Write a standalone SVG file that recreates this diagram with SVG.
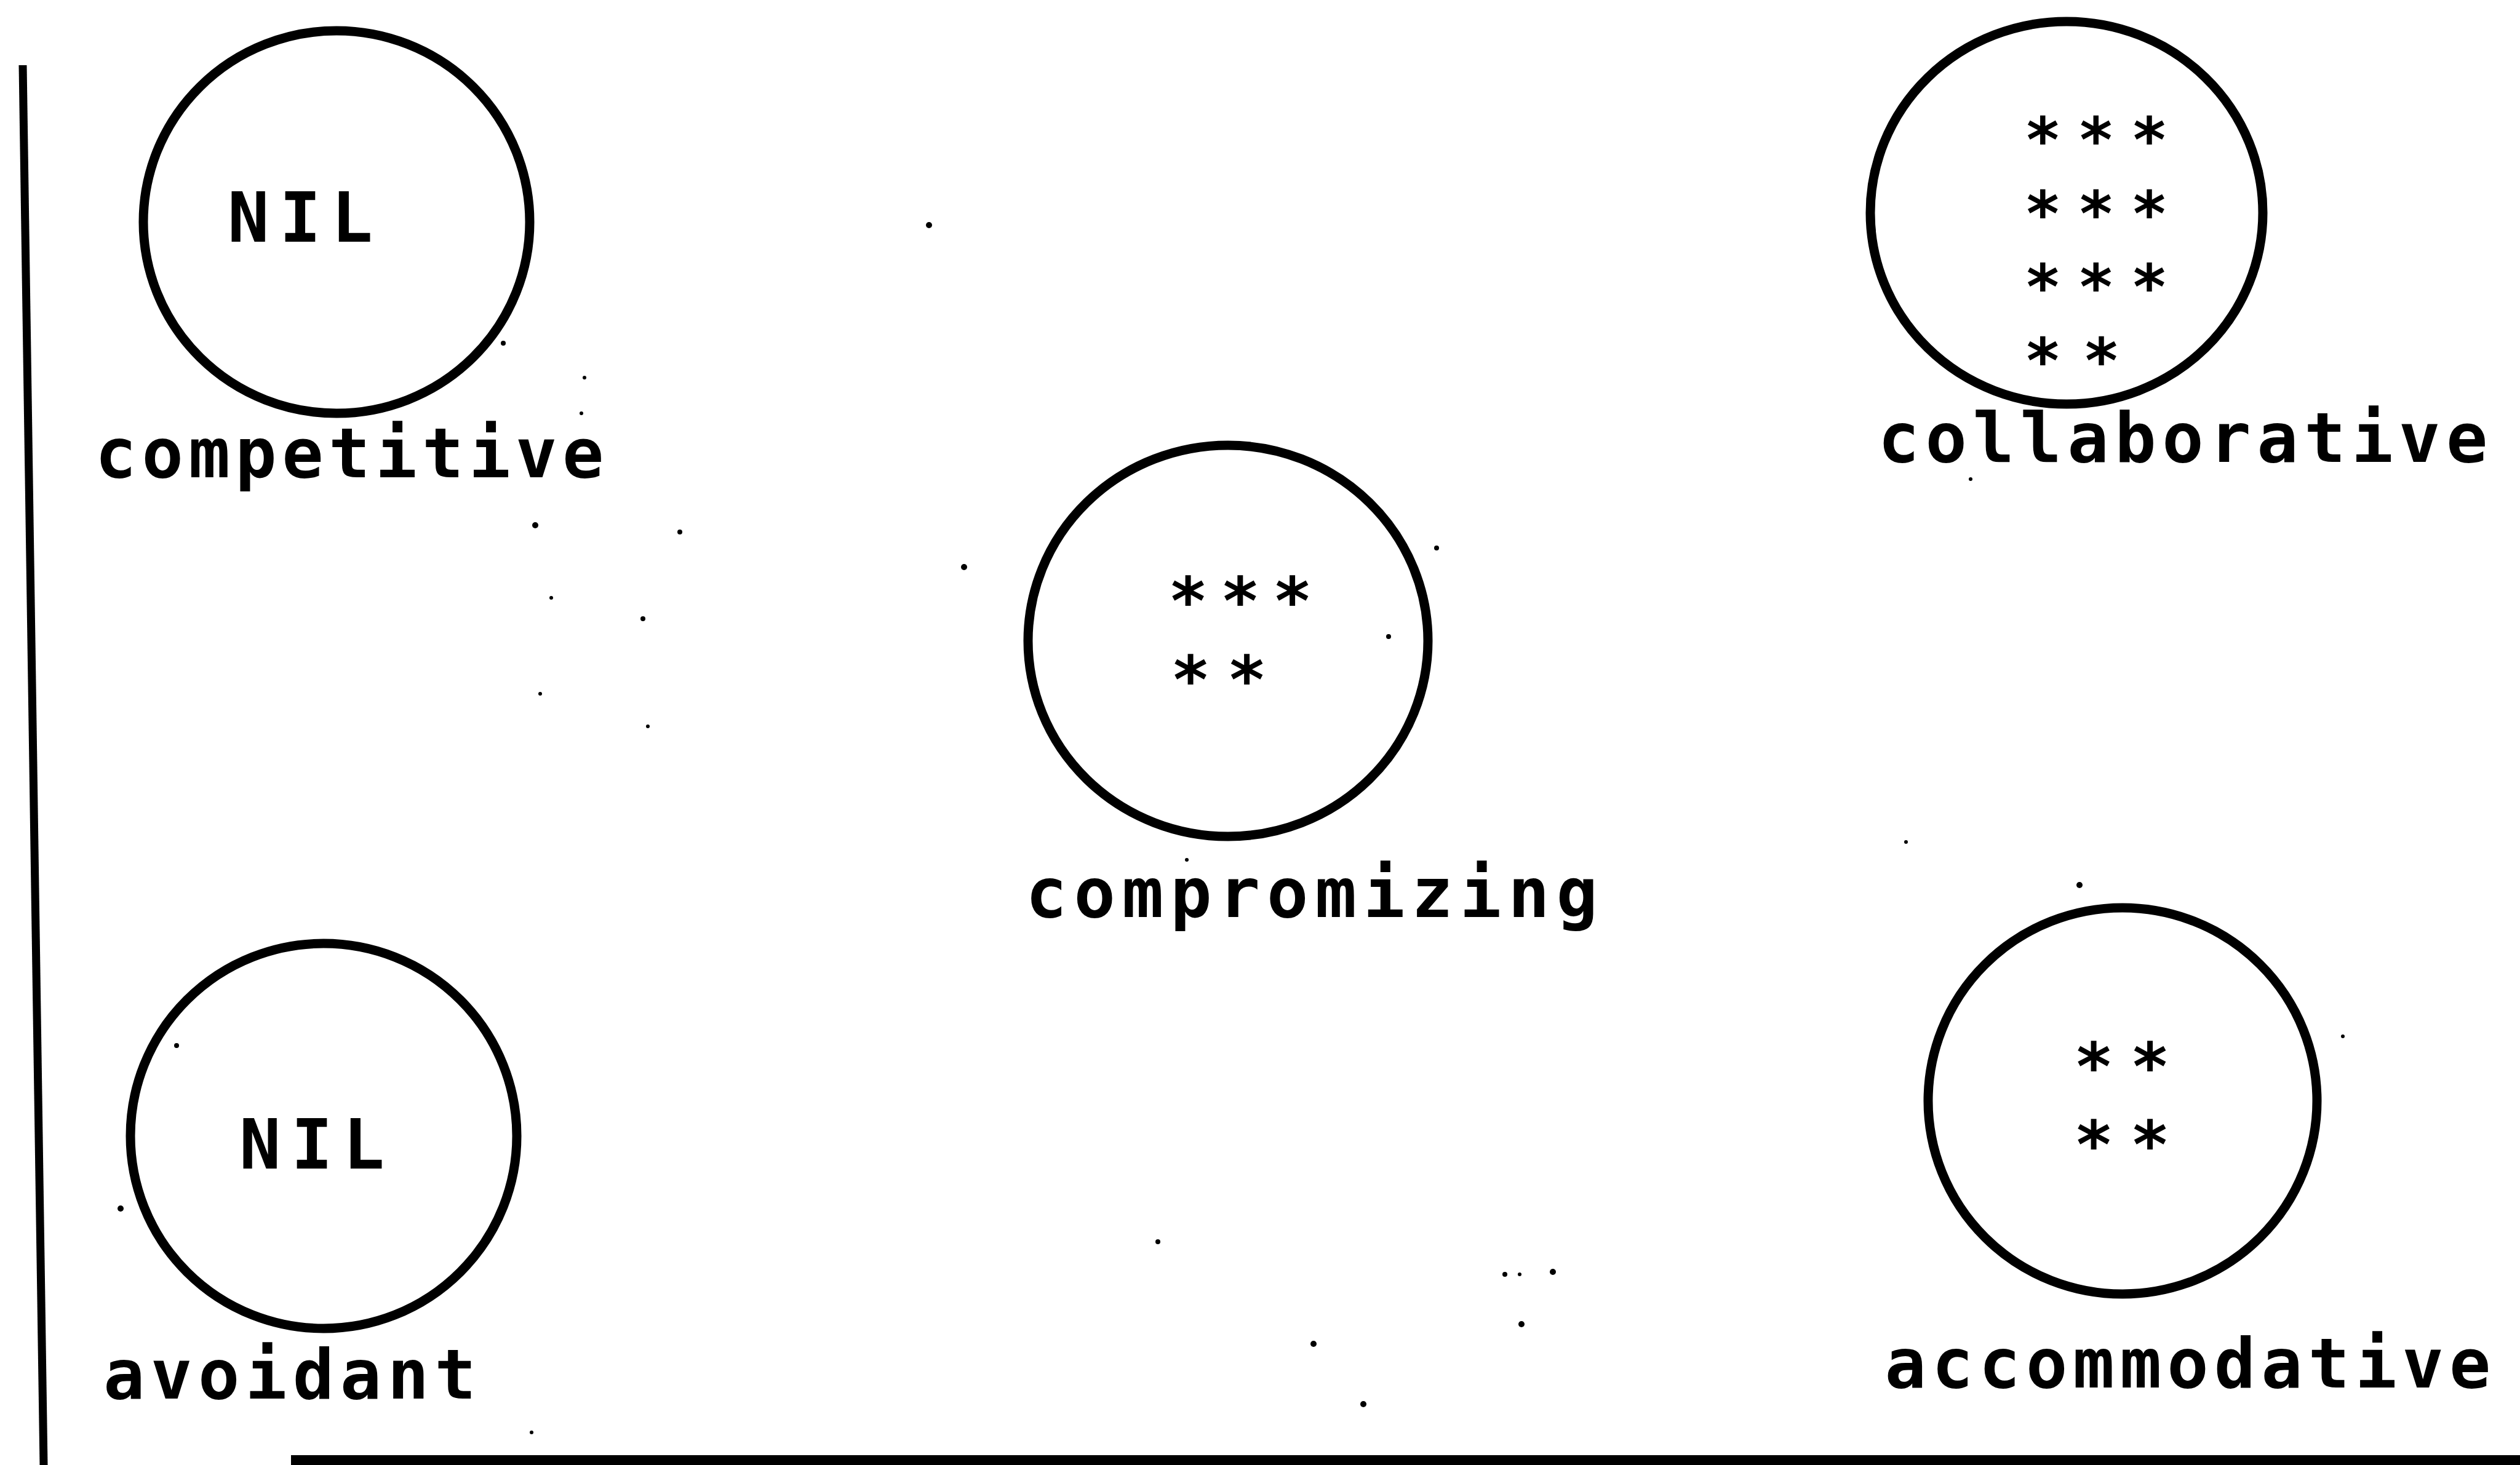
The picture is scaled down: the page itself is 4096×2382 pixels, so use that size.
<svg xmlns="http://www.w3.org/2000/svg" width="4096" height="2382" viewBox="0 0 4096 2382">
<style>
.c{fill:none;stroke:#000;stroke-width:15}
.t{font-family:"DejaVu Sans Mono","Liberation Mono",monospace;font-weight:bold;font-size:112px;fill:#000}
.n{text-anchor:middle}
.a{font-family:"DejaVu Sans Mono","Liberation Mono",monospace;font-weight:bold;font-size:107px;fill:#000}
.s{font-size:101px}
.d{fill:#000}
</style>
<rect width="4096" height="2382" fill="#fff"/>
<g id="frame">
<line x1="37" y1="106" x2="71" y2="2382" stroke="#000" stroke-width="13"/>
<rect x="473" y="2366" width="3623" height="16" fill="#000"/>
</g>
<g id="competitive">
<ellipse class="c" cx="547" cy="361" rx="314" ry="311"/>
<text class="t n" x="488" y="393" textLength="236" lengthAdjust="spacing">NIL</text>
<text class="t n" x="568" y="776" textLength="827" lengthAdjust="spacing">competitive</text>
</g>
<g id="compromizing">
<ellipse class="c" cx="1996" cy="1042" rx="325" ry="318"/>
<text class="a" x="1899" y="1015" textLength="234" lengthAdjust="spacing">***</text>
<text class="a" x="1903" y="1143" textLength="156" lengthAdjust="spacing">**</text>
<text class="t n" x="2132" y="1491" textLength="930" lengthAdjust="spacing">compromizing</text>
</g>
<g id="collaborative">
<ellipse class="c" cx="3359" cy="346" rx="319" ry="311"/>
<text class="a s" x="3290" y="263" textLength="234" lengthAdjust="spacing">***</text>
<text class="a s" x="3290" y="383" textLength="234" lengthAdjust="spacing">***</text>
<text class="a s" x="3290" y="502" textLength="234" lengthAdjust="spacing">***</text>
<text class="a s" x="3290" y="622" textLength="156" lengthAdjust="spacing">**</text>
<text class="t n" x="3548" y="751" textLength="991" lengthAdjust="spacing">collaborative</text>
</g>
<g id="avoidant">
<ellipse class="c" cx="526" cy="1847" rx="314" ry="313"/>
<text class="t n" x="507" y="1900" textLength="236" lengthAdjust="spacing">NIL</text>
<text class="t n" x="471" y="2274" textLength="606" lengthAdjust="spacing">avoidant</text>
</g>
<g id="accommodative">
<ellipse class="c" cx="3450" cy="1790" rx="316" ry="314"/>
<text class="a" x="3371" y="1772" textLength="156" lengthAdjust="spacing">**</text>
<text class="a" x="3371" y="1899" textLength="156" lengthAdjust="spacing">**</text>
<text class="t n" x="3556" y="2256" textLength="985" lengthAdjust="spacing">accommodative</text>
</g>
<g id="specks">
<circle class="d" cx="1510" cy="366" r="5"/>
<circle class="d" cx="870" cy="854" r="5"/>
<circle class="d" cx="1105" cy="865" r="4"/>
<circle class="d" cx="1567" cy="922" r="5"/>
<circle class="d" cx="2335" cy="891" r="4"/>
<circle class="d" cx="896" cy="972" r="3"/>
<circle class="d" cx="1045" cy="1006" r="4"/>
<circle class="d" cx="2257" cy="1035" r="4"/>
<circle class="d" cx="878" cy="1128" r="3"/>
<circle class="d" cx="1053" cy="1181" r="3"/>
<circle class="d" cx="3098" cy="1369" r="3"/>
<circle class="d" cx="3380" cy="1439" r="5"/>
<circle class="d" cx="3808" cy="1685" r="3"/>
<circle class="d" cx="196" cy="1965" r="5"/>
<circle class="d" cx="287" cy="1700" r="4"/>
<circle class="d" cx="1882" cy="2019" r="4"/>
<circle class="d" cx="2446" cy="2072" r="4"/>
<circle class="d" cx="2470" cy="2072" r="3"/>
<circle class="d" cx="2524" cy="2068" r="5"/>
<circle class="d" cx="2473" cy="2153" r="5"/>
<circle class="d" cx="2135" cy="2185" r="5"/>
<circle class="d" cx="2216" cy="2283" r="5"/>
<circle class="d" cx="818" cy="558" r="4"/>
<circle class="d" cx="950" cy="614" r="3"/>
<circle class="d" cx="945" cy="672" r="3"/>
<circle class="d" cx="1929" cy="1398" r="3"/>
<circle class="d" cx="3203" cy="779" r="3"/>
<circle class="d" cx="864" cy="2329" r="3"/>
</g>
</svg>
